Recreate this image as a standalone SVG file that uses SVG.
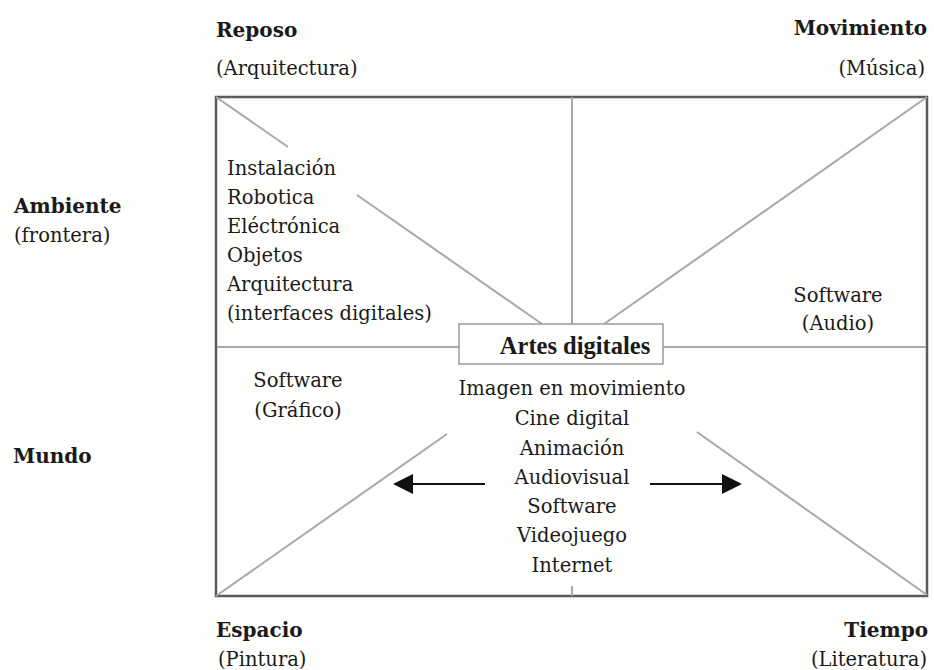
<svg xmlns="http://www.w3.org/2000/svg" width="934" height="670" viewBox="0 0 934 670">
<style>
text{font-family:"DejaVu Serif","Liberation Serif",serif;fill:#1a1a1a;font-size:19.5px}
.b{font-weight:bold;font-size:20px}
.m{text-anchor:middle}
.e{text-anchor:end}
.frame{fill:none;stroke:#5a5a5a;stroke-width:2.5}
.ln{stroke:#a8a8a8;stroke-width:2;fill:none}
.ar{stroke:#111;stroke-width:2;fill:none}
.title{font-family:"Liberation Serif",serif;font-weight:bold;font-size:24.5px}
</style>
<rect width="934" height="670" fill="#fefefc"/>
<g id="connectors">
<rect class="frame" x="216" y="97" width="711" height="499"/>
<line class="ln" x1="216" y1="97" x2="288" y2="147"/>
<line class="ln" x1="357" y1="195" x2="542" y2="324"/>
<line class="ln" x1="927" y1="97" x2="604" y2="324"/>
<line class="ln" x1="572" y1="97" x2="572" y2="324"/>
<line class="ln" x1="217" y1="347" x2="459" y2="347"/>
<line class="ln" x1="663" y1="347" x2="926" y2="347"/>
<line class="ln" x1="216" y1="596" x2="447" y2="434"/>
<line class="ln" x1="697" y1="432" x2="927" y2="595"/>
<line class="ln" x1="572" y1="586" x2="572" y2="596"/>
<line class="ar" x1="485" y1="484" x2="413" y2="484"/>
<path d="M393,484 L413,474 L413,494 Z" fill="#111"/>
<line class="ar" x1="650" y1="484" x2="722" y2="484"/>
<path d="M742,484 L722,474 L722,494 Z" fill="#111"/>
</g>
<g id="reposo"><text class="b" x="216" y="37">Reposo</text><text x="216" y="75">(Arquitectura)</text></g>
<g id="movimiento"><text class="b e" x="927" y="35">Movimiento</text><text class="e" x="925" y="75">(Música)</text></g>
<g id="ambiente"><text class="b" x="14" y="213">Ambiente</text><text x="14" y="242">(frontera)</text></g>
<g id="mundo"><text class="b" x="13" y="463">Mundo</text></g>
<g id="espacio"><text class="b" x="216" y="637">Espacio</text><text x="218" y="666">(Pintura)</text></g>
<g id="tiempo"><text class="b e" x="928" y="637">Tiempo</text><text class="e" x="927" y="666">(Literatura)</text></g>
<g id="instalacion">
<text x="227" y="175">Instalación</text>
<text x="227" y="204">Robotica</text>
<text x="227" y="233">Eléctrónica</text>
<text x="227" y="262">Objetos</text>
<text x="227" y="291">Arquitectura</text>
<text x="227" y="320">(interfaces digitales)</text>
</g>
<g id="software-audio"><text class="m" x="838" y="302">Software</text><text class="m" x="838" y="330">(Audio)</text></g>
<g id="software-grafico"><text class="m" x="298" y="387">Software</text><text class="m" x="298" y="417">(Gráfico)</text></g>
<g id="artes-digitales">
<rect x="459" y="324" width="204" height="40" fill="#fefefc" stroke="#9a9a9a" stroke-width="1.5"/>
<text class="title m" x="575" y="354">Artes digitales</text>
</g>
<g id="imagen">
<text class="m" x="572" y="395">Imagen en movimiento</text>
<text class="m" x="572" y="425">Cine digital</text>
<text class="m" x="572" y="455">Animación</text>
<text class="m" x="572" y="484">Audiovisual</text>
<text class="m" x="572" y="513">Software</text>
<text class="m" x="572" y="542">Videojuego</text>
<text class="m" x="572" y="572">Internet</text>
</g>
</svg>
